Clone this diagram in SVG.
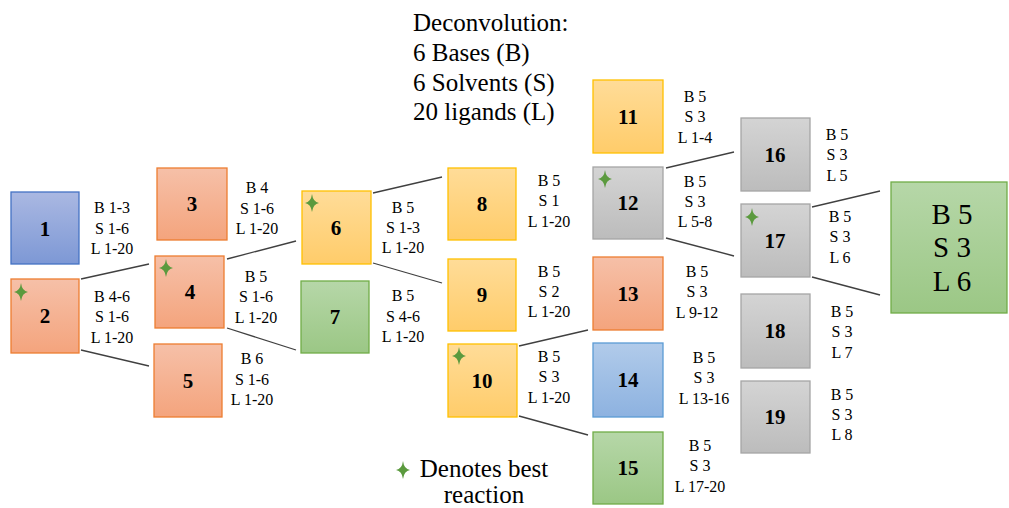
<svg xmlns="http://www.w3.org/2000/svg" xmlns:xlink="http://www.w3.org/1999/xlink" width="1009" height="508" viewBox="0 0 1009 508">
<style>
.box{stroke-width:1.3}
.num{font-family:"Liberation Serif","Times New Roman",serif;font-weight:bold;font-size:21px;text-anchor:middle;fill:#000}
.lbl{font-family:"Liberation Serif","Times New Roman",serif;font-size:16px;text-anchor:middle;fill:#000}
.big{font-family:"Liberation Serif","Times New Roman",serif;font-size:29px;text-anchor:middle;fill:#000}
.hd{font-family:"Liberation Serif","Times New Roman",serif;font-size:25px;fill:#000}
.conn line{stroke:#404040;stroke-width:1.3}
.star{fill:#5b9a3e}
</style>
<defs>
<linearGradient id="gBlue" x1="0" y1="0" x2="0" y2="1"><stop offset="0" stop-color="#aab8e2"/><stop offset="1" stop-color="#7d98d5"/></linearGradient>
<linearGradient id="gBlue2" x1="0" y1="0" x2="0" y2="1"><stop offset="0" stop-color="#b1cbea"/><stop offset="1" stop-color="#8db2e0"/></linearGradient>
<linearGradient id="gOr" x1="0" y1="0" x2="0" y2="1"><stop offset="0" stop-color="#f6c0a8"/><stop offset="1" stop-color="#f4a47d"/></linearGradient>
<linearGradient id="gYe" x1="0" y1="0" x2="0" y2="1"><stop offset="0" stop-color="#ffdc98"/><stop offset="1" stop-color="#ffcc6a"/></linearGradient>
<linearGradient id="gGr" x1="0" y1="0" x2="0" y2="1"><stop offset="0" stop-color="#b6d7a8"/><stop offset="1" stop-color="#9bc785"/></linearGradient>
<linearGradient id="gGy" x1="0" y1="0" x2="0" y2="1"><stop offset="0" stop-color="#d4d4d4"/><stop offset="1" stop-color="#bcbcbc"/></linearGradient>
<path id="star" class="star" d="M0,-9 Q1,-1 7,0 Q1,1 0,9 Q-1,1 -7,0 Q-1,-1 0,-9 Z"/>
</defs>
<rect width="1009" height="508" fill="#fff"/>

<g id="heading">
<text class="hd" x="413" y="31">Deconvolution:</text>
<text class="hd" x="413" y="61">6 Bases (B)</text>
<text class="hd" x="413" y="91">6 Solvents (S)</text>
<text class="hd" x="413" y="120">20 ligands (L)</text>
</g>

<g class="conn" id="connectors">
<line x1="81" y1="279" x2="149" y2="264"/>
<line x1="81" y1="350" x2="149" y2="366"/>
<line x1="227" y1="259" x2="296" y2="241"/>
<line x1="227" y1="328" x2="296" y2="350"/>
<line x1="373" y1="193" x2="442" y2="177"/>
<line x1="373" y1="263" x2="442" y2="283"/>
<line x1="519" y1="346" x2="588" y2="330"/>
<line x1="519" y1="416" x2="588" y2="435"/>
<line x1="666" y1="168" x2="734" y2="152"/>
<line x1="666" y1="238" x2="734" y2="256"/>
<line x1="812" y1="207" x2="880" y2="191"/>
<line x1="812" y1="277" x2="880" y2="295"/>
</g>

<g id="n1"><rect class="box" x="11" y="192" width="68" height="72" fill="url(#gBlue)" stroke="#4472c4"/><text class="num" x="45" y="236">1</text>
<text class="lbl" x="112" y="213">B 1-3</text><text class="lbl" x="112" y="234">S 1-6</text><text class="lbl" x="112" y="254">L 1-20</text></g>
<g id="n2"><rect class="box" x="11" y="279" width="68" height="74" fill="url(#gOr)" stroke="#ed7d31"/><text class="num" x="45" y="323">2</text><use href="#star" x="21" y="292"/>
<text class="lbl" x="112" y="302">B 4-6</text><text class="lbl" x="112" y="322">S 1-6</text><text class="lbl" x="112" y="343">L 1-20</text></g>
<g id="n3"><rect class="box" x="157" y="168" width="70" height="72" fill="url(#gOr)" stroke="#ed7d31"/><text class="num" x="192" y="211">3</text>
<text class="lbl" x="257" y="193">B 4</text><text class="lbl" x="257" y="214">S 1-6</text><text class="lbl" x="257" y="234">L 1-20</text></g>
<g id="n4"><rect class="box" x="155" y="256" width="69" height="72" fill="url(#gOr)" stroke="#ed7d31"/><text class="num" x="190" y="299">4</text><use href="#star" x="166" y="268"/>
<text class="lbl" x="256" y="282">B 5</text><text class="lbl" x="256" y="302">S 1-6</text><text class="lbl" x="256" y="323">L 1-20</text></g>
<g id="n5"><rect class="box" x="154" y="344" width="68" height="73" fill="url(#gOr)" stroke="#ed7d31"/><text class="num" x="188" y="388">5</text>
<text class="lbl" x="252" y="364">B 6</text><text class="lbl" x="252" y="385">S 1-6</text><text class="lbl" x="252" y="405">L 1-20</text></g>
<g id="n6"><rect class="box" x="302" y="191" width="69" height="73" fill="url(#gYe)" stroke="#ffc000"/><text class="num" x="336" y="235">6</text><use href="#star" x="312" y="203"/>
<text class="lbl" x="403" y="213">B 5</text><text class="lbl" x="403" y="233">S 1-3</text><text class="lbl" x="403" y="253">L 1-20</text></g>
<g id="n7"><rect class="box" x="301" y="281" width="68" height="72" fill="url(#gGr)" stroke="#70ad47"/><text class="num" x="335" y="324">7</text>
<text class="lbl" x="403" y="301">B 5</text><text class="lbl" x="403" y="322">S 4-6</text><text class="lbl" x="403" y="342">L 1-20</text></g>
<g id="n8"><rect class="box" x="448" y="168" width="68" height="72" fill="url(#gYe)" stroke="#ffc000"/><text class="num" x="482" y="211">8</text>
<text class="lbl" x="549" y="186">B 5</text><text class="lbl" x="549" y="206">S 1</text><text class="lbl" x="549" y="227">L 1-20</text></g>
<g id="n9"><rect class="box" x="448" y="259" width="68" height="72" fill="url(#gYe)" stroke="#ffc000"/><text class="num" x="482" y="302">9</text>
<text class="lbl" x="549" y="277">B 5</text><text class="lbl" x="549" y="297">S 2</text><text class="lbl" x="549" y="317">L 1-20</text></g>
<g id="n10"><rect class="box" x="448" y="344" width="69" height="73" fill="url(#gYe)" stroke="#ffc000"/><text class="num" x="482" y="388">10</text><use href="#star" x="459" y="356"/>
<text class="lbl" x="549" y="362">B 5</text><text class="lbl" x="549" y="382">S 3</text><text class="lbl" x="549" y="403">L 1-20</text></g>
<g id="n11"><rect class="box" x="593" y="80" width="70" height="73" fill="url(#gYe)" stroke="#ffc000"/><text class="num" x="628" y="124">11</text>
<text class="lbl" x="695" y="102">B 5</text><text class="lbl" x="695" y="122">S 3</text><text class="lbl" x="695" y="143">L 1-4</text></g>
<g id="n12"><rect class="box" x="593" y="167" width="70" height="72" fill="url(#gGy)" stroke="#a5a5a5"/><text class="num" x="628" y="210">12</text><use href="#star" x="605" y="179"/>
<text class="lbl" x="695" y="187">B 5</text><text class="lbl" x="695" y="207">S 3</text><text class="lbl" x="695" y="227">L 5-8</text></g>
<g id="n13"><rect class="box" x="593" y="257" width="70" height="73" fill="url(#gOr)" stroke="#ed7d31"/><text class="num" x="628" y="301">13</text>
<text class="lbl" x="697" y="277">B 5</text><text class="lbl" x="697" y="297">S 3</text><text class="lbl" x="697" y="318">L 9-12</text></g>
<g id="n14"><rect class="box" x="593" y="343" width="70" height="74" fill="url(#gBlue2)" stroke="#5b9bd5"/><text class="num" x="628" y="387">14</text>
<text class="lbl" x="704" y="363">B 5</text><text class="lbl" x="704" y="383">S 3</text><text class="lbl" x="704" y="404">L 13-16</text></g>
<g id="n15"><rect class="box" x="593" y="432" width="70" height="72" fill="url(#gGr)" stroke="#70ad47"/><text class="num" x="628" y="475">15</text>
<text class="lbl" x="700" y="451">B 5</text><text class="lbl" x="700" y="471">S 3</text><text class="lbl" x="700" y="492">L 17-20</text></g>
<g id="n16"><rect class="box" x="741" y="118" width="69" height="73" fill="url(#gGy)" stroke="#a5a5a5"/><text class="num" x="775" y="162">16</text>
<text class="lbl" x="837" y="140">B 5</text><text class="lbl" x="837" y="160">S 3</text><text class="lbl" x="837" y="181">L 5</text></g>
<g id="n17"><rect class="box" x="741" y="204" width="69" height="73" fill="url(#gGy)" stroke="#a5a5a5"/><text class="num" x="775" y="248">17</text><use href="#star" x="752" y="217"/>
<text class="lbl" x="840" y="222">B 5</text><text class="lbl" x="840" y="242">S 3</text><text class="lbl" x="840" y="263">L 6</text></g>
<g id="n18"><rect class="box" x="741" y="294" width="69" height="74" fill="url(#gGy)" stroke="#a5a5a5"/><text class="num" x="775" y="338">18</text>
<text class="lbl" x="842" y="317">B 5</text><text class="lbl" x="842" y="337">S 3</text><text class="lbl" x="842" y="358">L 7</text></g>
<g id="n19"><rect class="box" x="741" y="381" width="69" height="72" fill="url(#gGy)" stroke="#a5a5a5"/><text class="num" x="775" y="424">19</text>
<text class="lbl" x="842" y="400">B 5</text><text class="lbl" x="842" y="420">S 3</text><text class="lbl" x="842" y="440">L 8</text></g>
<g id="result"><rect class="box" x="891" y="182" width="116" height="131" fill="url(#gGr)" stroke="#70ad47"/>
<text class="big" x="952" y="224">B 5</text><text class="big" x="952" y="257">S 3</text><text class="big" x="952" y="291">L 6</text></g>

<g id="legend"><use href="#star" x="403" y="470"/>
<text class="hd" x="484" y="477" text-anchor="middle">Denotes best</text>
<text class="hd" x="484" y="503" text-anchor="middle">reaction</text></g>
</svg>
